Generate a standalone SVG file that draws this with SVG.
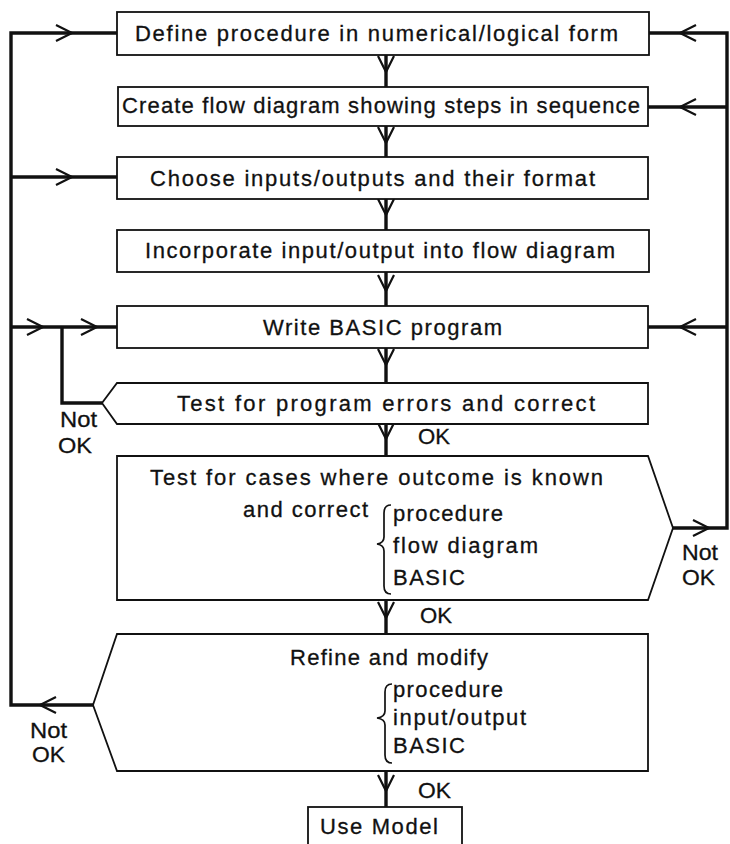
<svg xmlns="http://www.w3.org/2000/svg" xmlns:xlink="http://www.w3.org/1999/xlink" width="730" height="844" viewBox="0 0 730 844">
<style>
.box{fill:#fff;stroke:#111;stroke-width:1.8;stroke-linejoin:miter}
.conn{fill:none;stroke:#111;stroke-width:3.4;stroke-linejoin:miter;stroke-linecap:butt}
.chev{fill:none;stroke:#111;stroke-width:2.2;stroke-linejoin:miter}
.brace{fill:none;stroke:#111;stroke-width:1.7}
text{font-family:"Liberation Sans",Arial,Helvetica,sans-serif;font-size:22px;fill:#111;stroke:#111;stroke-width:0.3}
</style>
<defs>
<path id="chev" class="chev" d="M -8,-16 L 0,0 L 8,-16"/>
</defs>
<rect x="0" y="0" width="730" height="844" fill="#fff"/>

<g id="connectors">
<path class="conn" d="M 93,705 H 11 V 33 H 117"/>
<path class="conn" d="M 11,177 H 117"/>
<path class="conn" d="M 11,327 H 117"/>
<path class="conn" d="M 102,403 H 62 V 327"/>
<path class="conn" d="M 673,528 H 727 V 33 H 649"/>
<path class="conn" d="M 727,107 H 648"/>
<path class="conn" d="M 727,327 H 648"/>
<path class="conn" d="M 386,55 V 87 M 386,126 V 157 M 386,199 V 230 M 386,272 V 306 M 386,348 V 383 M 386,424 V 456 M 386,600 V 634 M 386,771 V 807"/>
<use href="#chev" xlink:href="#chev" transform="translate(386,72)"/>
<use href="#chev" xlink:href="#chev" transform="translate(386,143)"/>
<use href="#chev" xlink:href="#chev" transform="translate(386,215)"/>
<use href="#chev" xlink:href="#chev" transform="translate(386,291)"/>
<use href="#chev" xlink:href="#chev" transform="translate(386,365)"/>
<use href="#chev" xlink:href="#chev" transform="translate(386,439)"/>
<use href="#chev" xlink:href="#chev" transform="translate(386,618)"/>
<use href="#chev" xlink:href="#chev" transform="translate(386,791)"/>
<use href="#chev" xlink:href="#chev" transform="translate(72,33) rotate(-90)"/>
<use href="#chev" xlink:href="#chev" transform="translate(72,177) rotate(-90)"/>
<use href="#chev" xlink:href="#chev" transform="translate(43,327) rotate(-90)"/>
<use href="#chev" xlink:href="#chev" transform="translate(97,327) rotate(-90)"/>
<use href="#chev" xlink:href="#chev" transform="translate(680,33) rotate(90)"/>
<use href="#chev" xlink:href="#chev" transform="translate(680,107) rotate(90)"/>
<use href="#chev" xlink:href="#chev" transform="translate(680,327) rotate(90)"/>
<use href="#chev" xlink:href="#chev" transform="translate(709,528) rotate(-90)"/>
<use href="#chev" xlink:href="#chev" transform="translate(40,705) rotate(90)"/>
<text x="418" y="444" textLength="32" lengthAdjust="spacingAndGlyphs">OK</text>
<text x="420" y="623" textLength="32" lengthAdjust="spacingAndGlyphs">OK</text>
<text x="418" y="798" textLength="33" lengthAdjust="spacingAndGlyphs">OK</text>
<text x="60" y="427" textLength="37" lengthAdjust="spacingAndGlyphs">Not</text>
<text x="58" y="453" textLength="34" lengthAdjust="spacingAndGlyphs">OK</text>
<text x="682" y="560" textLength="36" lengthAdjust="spacingAndGlyphs">Not</text>
<text x="682" y="585" textLength="33" lengthAdjust="spacingAndGlyphs">OK</text>
<text x="30" y="738" textLength="37" lengthAdjust="spacingAndGlyphs">Not</text>
<text x="32" y="762" textLength="33" lengthAdjust="spacingAndGlyphs">OK</text>
</g>

<g id="define">
<rect class="box" x="117" y="12" width="532" height="43"/>
<text x="135" y="41" textLength="483" lengthAdjust="spacing">Define procedure in numerical/logical form</text>
</g>
<g id="create">
<rect class="box" x="118" y="87" width="530" height="39"/>
<text x="122" y="113" textLength="518" lengthAdjust="spacing">Create flow diagram showing steps in sequence</text>
</g>
<g id="choose">
<rect class="box" x="117" y="157" width="531" height="42"/>
<text x="150" y="186" textLength="445" lengthAdjust="spacing">Choose inputs/outputs and their format</text>
</g>
<g id="incorporate">
<rect class="box" x="117" y="230" width="532" height="42"/>
<text x="145" y="258" textLength="470" lengthAdjust="spacing">Incorporate input/output into flow diagram</text>
</g>
<g id="write">
<rect class="box" x="117" y="306" width="531" height="42"/>
<text x="263" y="335" textLength="239" lengthAdjust="spacing">Write BASIC program</text>
</g>
<g id="test-errors">
<path class="box" d="M 117,383 H 648 V 424 H 117 L 102,403 Z"/>
<text x="177" y="411" textLength="418" lengthAdjust="spacing">Test for program errors and correct</text>
</g>
<g id="test-cases">
<path class="box" d="M 117,456 H 648 L 673,528 L 648,600 H 117 Z"/>
<text x="150" y="485" textLength="453" lengthAdjust="spacing">Test for cases where outcome is known</text>
<text x="243" y="517" textLength="125" lengthAdjust="spacing">and correct</text>
<path class="brace" d="M 391,505 Q 384,505 384,513 L 384,537 Q 384,543 377,544 Q 384,545 384,551 L 384,586 Q 384,594 391,594"/>
<text x="393" y="521" textLength="110" lengthAdjust="spacing">procedure</text>
<text x="393" y="553" textLength="145" lengthAdjust="spacing">flow diagram</text>
<text x="393" y="585" textLength="72" lengthAdjust="spacing">BASIC</text>
</g>
<g id="refine">
<path class="box" d="M 117,634 H 648 V 771 H 117 L 93,705 Z"/>
<text x="290" y="665" textLength="198" lengthAdjust="spacing">Refine and modify</text>
<path class="brace" d="M 392,684 Q 385,684 385,692 L 385,711 Q 385,717 377,718 Q 385,719 385,725 L 385,755 Q 385,763 392,763"/>
<text x="393" y="697" textLength="110" lengthAdjust="spacing">procedure</text>
<text x="393" y="725" textLength="133" lengthAdjust="spacing">input/output</text>
<text x="393" y="753" textLength="72" lengthAdjust="spacing">BASIC</text>
</g>
<g id="use-model">
<rect class="box" x="308" y="807" width="154" height="45"/>
<text x="320" y="834" textLength="118" lengthAdjust="spacing">Use Model</text>
</g>
</svg>
